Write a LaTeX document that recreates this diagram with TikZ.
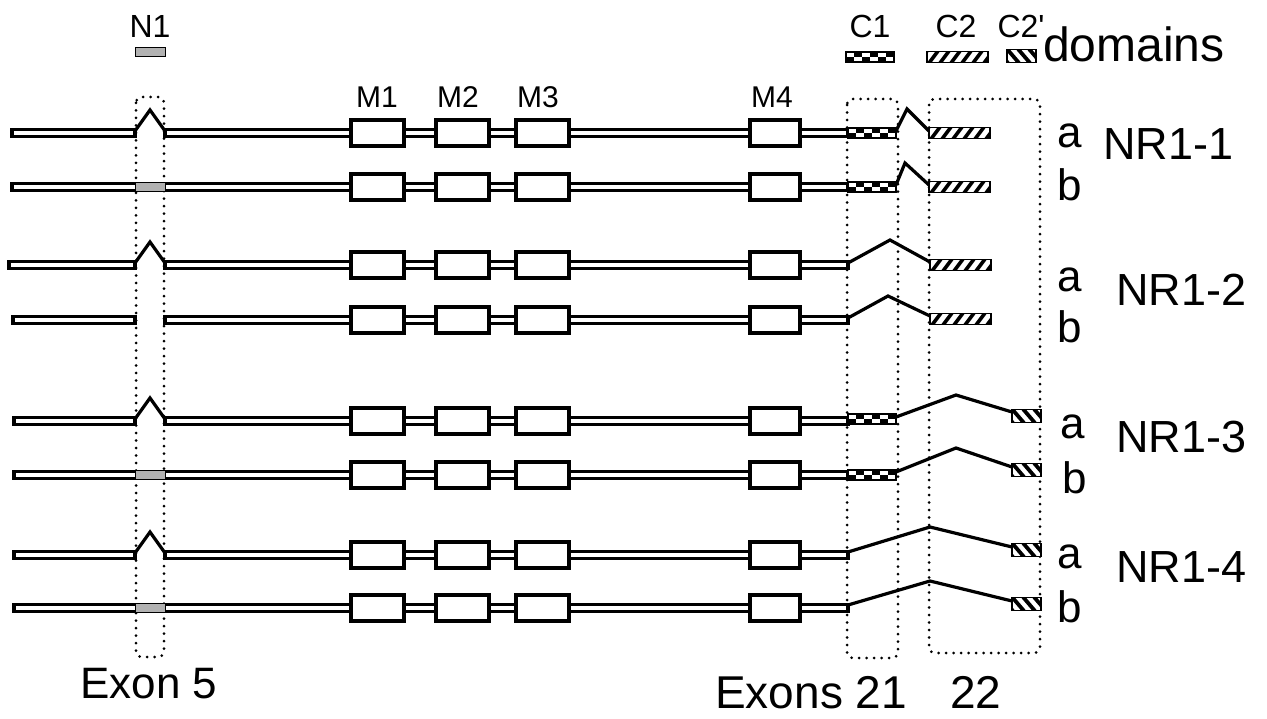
\documentclass[tikz,border=0pt]{standalone}
\usepackage{fontspec}
\setmainfont{Liberation Sans}
\tikzset{
  gene/.style={draw=black, line width=3.2pt, fill=white},
  mbox/.style={draw=black, line width=3.4pt, fill=white},
  intron/.style={draw=black, line width=3.2pt, line join=miter},
  dotbox/.style={draw=black, line width=3pt, dash pattern=on 0pt off 7.5pt, line cap=round, rounded corners=6pt},
  graybox/.style={draw=black, line width=1pt, fill=black!30},
  txtM/.style={inner sep=0pt, anchor=base, font=\fontsize{30}{30}\selectfont},
  txtC/.style={inner sep=0pt, anchor=base, font=\fontsize{32}{32}\selectfont},
  txtab/.style={inner sep=0pt, anchor=base west, font=\fontsize{44}{44}\selectfont},
  txtNR/.style={inner sep=0pt, anchor=base west, font=\fontsize{45}{45}\selectfont},
  txtbig/.style={inner sep=0pt, anchor=base west, font=\fontsize{46}{46}\selectfont},
}
\newcommand\GeneSeg[3]{\draw[gene] (#1,#3-3.2) rectangle (#2,#3+3.2);}
\newcommand\NSkip[1]{\draw[intron] (135,#1-2) -- (150,#1-23) -- (165,#1-2);}
\newcommand\NGray[1]{\draw[graybox] (135,#1-4.8) rectangle (165,#1+4.8);}
\newcommand\MBoxes[1]{%
  \draw[mbox] (351,#1-13) rectangle (404,#1+13);
  \draw[mbox] (436,#1-13) rectangle (489,#1+13);
  \draw[mbox] (516,#1-13) rectangle (569,#1+13);
  \draw[mbox] (750,#1-13) rectangle (800,#1+13);}
\newcommand\CheckBox[2]{%
  \fill[white] (#1,#2-5) rectangle (#1+48,#2+5);
  \foreach \k in {1,3,5} {\fill[black] (#1+\k*8,#2-5) rectangle (#1+\k*8+8,#2);}
  \foreach \k in {0,2,4} {\fill[black] (#1+\k*8,#2) rectangle (#1+\k*8+8,#2+5);}
  \draw[line width=2pt] (#1,#2-5) rectangle (#1+48,#2+5);}
\newcommand\HatchC[2]{%
  \fill[white] (#1,#2-5.5) rectangle (#1+61,#2+5.5);
  \begin{scope}
    \clip (#1,#2-5.5) rectangle (#1+61,#2+5.5);
    \foreach \k in {-1,...,6} {\draw[line width=3.6pt] (#1+\k*11+2,#2+6) -- (#1+\k*11+11,#2-6);}
  \end{scope}
  \draw[line width=1.6pt] (#1,#2-5.5) rectangle (#1+61,#2+5.5);}
\newcommand\HatchP[2]{%
  \fill[white] (#1,#2-6.5) rectangle (#1+29,#2+6.5);
  \begin{scope}
    \clip (#1,#2-6.5) rectangle (#1+29,#2+6.5);
    \foreach \k in {-1,...,3} {\draw[line width=3.8pt] (#1+\k*11,#2-7) -- (#1+\k*11+12,#2+7);}
  \end{scope}
  \draw[line width=1.6pt] (#1,#2-6.5) rectangle (#1+29,#2+6.5);}
\begin{document}
\begin{tikzpicture}[x=1pt,y=-1pt]
\useasboundingbox (0,0) rectangle (1267,719);
\fill[white] (0,0) rectangle (1267,719);

% dotted exon boxes
\draw[dotbox] (136,97) rectangle (164,657);
\draw[dotbox] (847,99) rectangle (898,658);
\draw[dotbox] (929,99) rectangle (1040,653);

% legend
\node[txtC] (n1) at (150,38) {N1};
\draw[graybox] (135,48) rectangle (165,57);
\node[txtC] (c1) at (870,38) {C1};
\CheckBox{846}{57}
\node[txtC] (c2) at (956,38) {C2};
\HatchC{927}{57}
\node[txtC] (c2p) at (1021,38) {C2\textquotesingle};
\HatchP{1007}{56}
\node[txtbig, font=\fontsize{48}{48}\selectfont] (dom) at (1043,62) {domains};

% M labels
\node[txtM] (m1) at (377,108) {M1};
\node[txtM] (m2) at (458,108) {M2};
\node[txtM] (m3) at (538,108) {M3};
\node[txtM] (m4) at (772,108) {M4};

% Row NR1-1 a
\GeneSeg{12}{135}{133}
\NSkip{133}
\GeneSeg{165}{848}{133}
\MBoxes{133}
\CheckBox{848}{133}
\draw[intron] (896,131) -- (907,109) -- (929,131);
\HatchC{929}{133}
% Row NR1-1 b
\GeneSeg{12}{848}{187}
\NGray{187}
\MBoxes{187}
\CheckBox{848}{187}
\draw[intron] (896,185) -- (905,163) -- (929,185);
\HatchC{929}{187}

% Row NR1-2 a
\GeneSeg{9}{135}{265}
\NSkip{265}
\GeneSeg{165}{848}{265}
\MBoxes{265}
\draw[intron] (848,263) -- (890,240) -- (930,262);
\HatchC{930}{265}
% Row NR1-2 b
\GeneSeg{13}{135}{320}
\GeneSeg{165}{848}{320}
\MBoxes{320}
\draw[intron] (848,318) -- (888,296) -- (930,316);
\HatchC{930}{319}

% Row NR1-3 a
\GeneSeg{14}{135}{421}
\NSkip{421}
\GeneSeg{165}{848}{421}
\MBoxes{421}
\CheckBox{848}{419}
\draw[intron] (896,417) -- (956,395) -- (1012,412);
\HatchP{1012}{416}
% Row NR1-3 b
\GeneSeg{14}{848}{475}
\NGray{475}
\MBoxes{475}
\CheckBox{848}{475}
\draw[intron] (896,472) -- (956,448) -- (1012,467);
\HatchP{1012}{470}

% Row NR1-4 a
\GeneSeg{14}{135}{555}
\NSkip{555}
\GeneSeg{165}{848}{555}
\MBoxes{555}
\draw[intron] (848,552) -- (930,527) -- (1012,547);
\HatchP{1012}{550}
% Row NR1-4 b
\GeneSeg{14}{848}{608}
\NGray{608}
\MBoxes{608}
\draw[intron] (848,605) -- (930,581) -- (1012,601);
\HatchP{1012}{604}

% a / b labels
\node[txtab] (a1) at (1057,148) {a};
\node[txtab] (b1) at (1057,201) {b};
\node[txtab] (a2) at (1057,292) {a};
\node[txtab] (b2) at (1057,343) {b};
\node[txtab] (a3) at (1060,438) {a};
\node[txtab] (b3) at (1062,493) {b};
\node[txtab] (a4) at (1057,568) {a};
\node[txtab] (b4) at (1057,622) {b};

% isoform names
\node[txtNR] (nr1) at (1103,160) {NR1-1};
\node[txtNR] (nr2) at (1116,306) {NR1-2};
\node[txtNR] (nr3) at (1116,452) {NR1-3};
\node[txtNR] (nr4) at (1116,582) {NR1-4};

% exon captions
\node[txtbig, font=\fontsize{44}{44}\selectfont] (ex5) at (80,698) {Exon 5};
\node[txtbig] (ex21) at (715,708) {Exons 21};
\node[txtbig] (ex22) at (950,708) {22};
\end{tikzpicture}
\end{document}
